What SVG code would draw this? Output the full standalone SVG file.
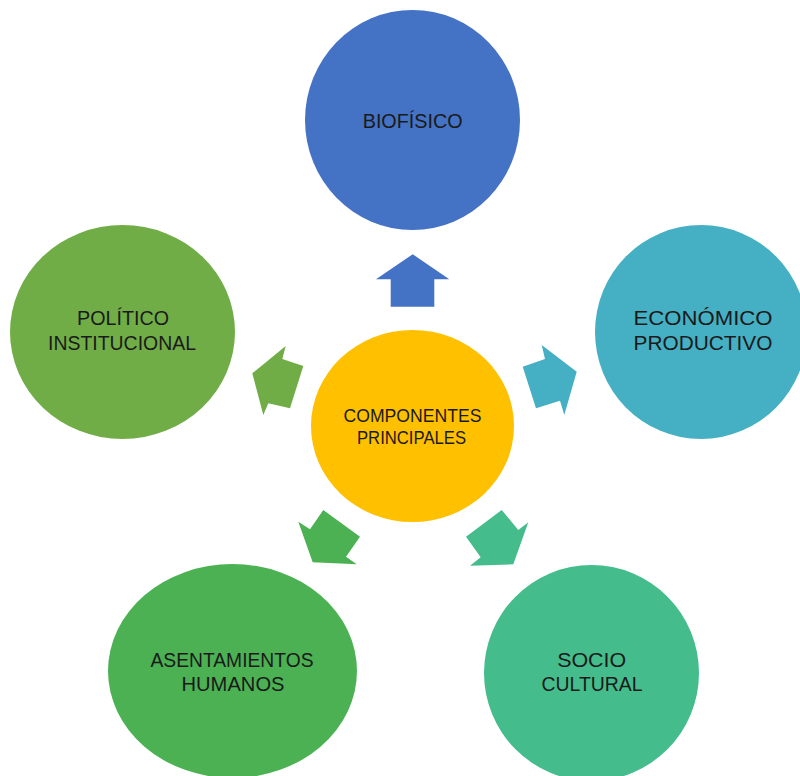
<svg xmlns="http://www.w3.org/2000/svg" width="800" height="776" viewBox="0 0 800 776">
<style>
.t{font-family:"Liberation Sans","DejaVu Sans",sans-serif;font-size:20px;fill:#1a1a1a;text-anchor:middle}
.s{font-size:18px}
</style>
<rect width="800" height="776" fill="#ffffff"/>
<g id="connectors">
<polygon points="412.7,254.3 449.3,279.3 434.3,279.3 434.3,306.7 390.7,306.7 390.7,279.3 376,279.3" fill="#4472C4"/>
<polygon points="522.7,366.7 545,359 541.7,345 576.7,371.7 564.3,415 560,400.7 536,408.3" fill="#45AFC4"/>
<polygon points="285.7,346 282.3,359 303.3,366 290,408.3 268.3,403.3 263.3,415 252.3,373.3" fill="#70AD47"/>
<polygon points="323.3,510 360,536.7 346,556.7 356.7,564.3 312.7,562.3 298.3,521.7 310,529.3" fill="#4BB153"/>
<polygon points="501.7,510 518.3,530 528.3,522.3 513.3,564.3 470,565.7 480.7,557.3 466,536.7" fill="#45BC8C"/>
</g>
<g id="biofisico">
<ellipse cx="412.5" cy="120" rx="107.5" ry="110" fill="#4472C4"/>
<text class="t" x="412.7" y="128" textLength="100" lengthAdjust="spacingAndGlyphs">BIOFÍSICO</text>
</g>
<g id="economico">
<ellipse cx="701" cy="332" rx="106" ry="107" fill="#45AFC4"/>
<text class="t" x="703" y="325" textLength="139" lengthAdjust="spacingAndGlyphs">ECONÓMICO</text>
<text class="t" x="703" y="350" textLength="139" lengthAdjust="spacingAndGlyphs">PRODUCTIVO</text>
</g>
<g id="politico">
<ellipse cx="122.5" cy="332" rx="112.5" ry="107" fill="#70AD47"/>
<text class="t" x="123" y="325" textLength="92" lengthAdjust="spacingAndGlyphs">POLÍTICO</text>
<text class="t" x="122" y="350" textLength="148" lengthAdjust="spacingAndGlyphs">INSTITUCIONAL</text>
</g>
<g id="asentamientos">
<ellipse cx="232.5" cy="671" rx="124.5" ry="107" fill="#4BB153"/>
<text class="t" x="232" y="667" textLength="163" lengthAdjust="spacingAndGlyphs">ASENTAMIENTOS</text>
<text class="t" x="233" y="691" textLength="103" lengthAdjust="spacingAndGlyphs">HUMANOS</text>
</g>
<g id="sociocultural">
<ellipse cx="591.5" cy="673" rx="107.5" ry="108" fill="#45BC8C"/>
<text class="t" x="591.7" y="667" textLength="69" lengthAdjust="spacingAndGlyphs">SOCIO</text>
<text class="t" x="592" y="691" textLength="101" lengthAdjust="spacingAndGlyphs">CULTURAL</text>
</g>
<g id="componentes">
<ellipse cx="412.5" cy="426" rx="101.5" ry="96" fill="#FFC000"/>
<text class="t s" x="412.5" y="421.5" textLength="138" lengthAdjust="spacingAndGlyphs">COMPONENTES</text>
<text class="t s" x="411.5" y="443.5" textLength="109" lengthAdjust="spacingAndGlyphs">PRINCIPALES</text>
</g>
</svg>
